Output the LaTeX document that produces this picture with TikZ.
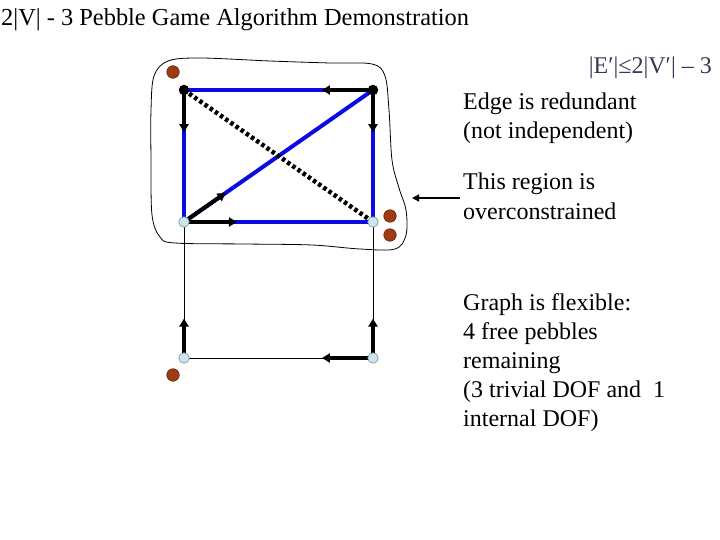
\documentclass[tikz,border=0pt]{standalone}
\usepackage{fontspec}
\setmainfont{Liberation Serif}
\usetikzlibrary{arrows.meta,calc}
\definecolor{edgeblue}{RGB}{10,10,225}
\definecolor{vfill}{RGB}{205,230,238}
\definecolor{vdraw}{RGB}{120,140,150}
\definecolor{pebfill}{RGB}{160,58,18}
\definecolor{pebdraw}{RGB}{95,35,10}
\definecolor{formula}{RGB}{55,55,85}
\tikzset{
  txt/.style={inner sep=0pt, anchor=base west, font=\fontsize{24}{29}\selectfont},
  blueedge/.style={draw=edgeblue, line width=4pt},
  thinedge/.style={draw=black, line width=1pt},
  pebarrow/.style={draw=black, line width=4pt, -{Triangle[length=8pt,width=9pt]}},
  redundant/.style={draw=black, line width=4.5pt, dash pattern=on 3.5pt off 2.8pt},
  fixedv/.style={circle, fill=black, minimum size=10.5pt, inner sep=0pt},
  freev/.style={circle, fill=vfill, draw=vdraw, line width=0.6pt, minimum size=10.5pt, inner sep=0pt},
  pebble/.style={circle, fill=pebfill, draw=pebdraw, line width=0.6pt, minimum size=12.5pt, inner sep=0pt},
  callout/.style={draw=black, line width=1.3pt, -{Triangle[length=7pt,width=7pt]}}
}
\begin{document}
\begin{tikzpicture}[x=1pt,y=-1pt]
\useasboundingbox (0,0) rectangle (720,540);

% title
\node[txt, font=\fontsize{24.4}{29}\selectfont] (title) at (1,26) {2|V| - 3 Pebble Game Algorithm Demonstration};

% vertex positions
\coordinate (A) at (184,90);
\coordinate (B) at (373,90);
\coordinate (C) at (184,222);
\coordinate (D) at (373,222);
\coordinate (E) at (184,358);
\coordinate (F) at (373,358);

% region outline
\draw[line width=0.8pt] plot[smooth cycle, tension=0.55] coordinates {
  (151,110) (154,76) (168,61) (200,58) (270,61) (330,63) (372,64) (385,76)
  (389,110) (392,160) (399,188) (406,210) (406,235) (395,249) (360,249)
  (312,245) (245,244) (175,243) (160,237) (152,215) (151,160)};

% blue (independent) edges
\draw[blueedge] (A) -- (B);
\draw[blueedge] (A) -- (C);
\draw[blueedge] (B) -- (D);
\draw[blueedge] (C) -- (D);
\draw[blueedge] (C) -- (B);

% thin edges
\draw[thinedge] (C) -- (E);
\draw[thinedge] (D) -- (F);
\draw[thinedge] (E) -- (F);

% redundant edge
\draw[redundant] (A) -- (D);

% pebble arrows
\draw[pebarrow] (B) -- ($(B)!0.27!(A)$);
\draw[pebarrow] (A) -- ($(A)!0.32!(C)$);
\draw[pebarrow] (B) -- ($(B)!0.32!(D)$);
\draw[pebarrow] (C) -- ($(C)!0.22!(B)$);
\draw[pebarrow] (C) -- ($(C)!0.28!(D)$);
\draw[pebarrow] (E) -- ($(E)!0.29!(C)$);
\draw[pebarrow] (F) -- ($(F)!0.29!(D)$);
\draw[pebarrow] (F) -- ($(F)!0.27!(E)$);

% vertices
\node[fixedv] (vA) at (A) {};
\node[fixedv] (vB) at (B) {};
\node[freev] (vC) at (C) {};
\node[freev] (vD) at (D) {};
\node[freev] (vE) at (E) {};
\node[freev] (vF) at (F) {};

% free pebbles
\node[pebble] (p1) at (173,72) {};
\node[pebble] (p2) at (390,216) {};
\node[pebble] (p3) at (390,235) {};
\node[pebble] (p4) at (173,375) {};

% texts
\node[txt, anchor=base east, text=formula] (cond) at (712,74) {|E′|≤2|V′| – 3};
\node[txt] (red1) at (463,110) {Edge is redundant};
\node[txt] (red2) at (463,139) {(not independent)};
\node[txt] (reg1) at (463,190) {This region is};
\node[txt] (reg2) at (463,219) {overconstrained};
\node[txt] (fl1) at (463,310) {Graph is flexible:};
\node[txt] (fl2) at (463,339) {4 free pebbles};
\node[txt] (fl3) at (463,368) {remaining};
\node[txt] (fl4) at (463,397) {(3 trivial DOF and \ 1};
\node[txt] (fl5) at (463,426) {internal DOF)};

% callout arrow
\coordinate (cs) at (460,198);
\coordinate (ce) at (412,198);
\draw[callout] (cs) -- (ce);
\end{tikzpicture}
\end{document}
